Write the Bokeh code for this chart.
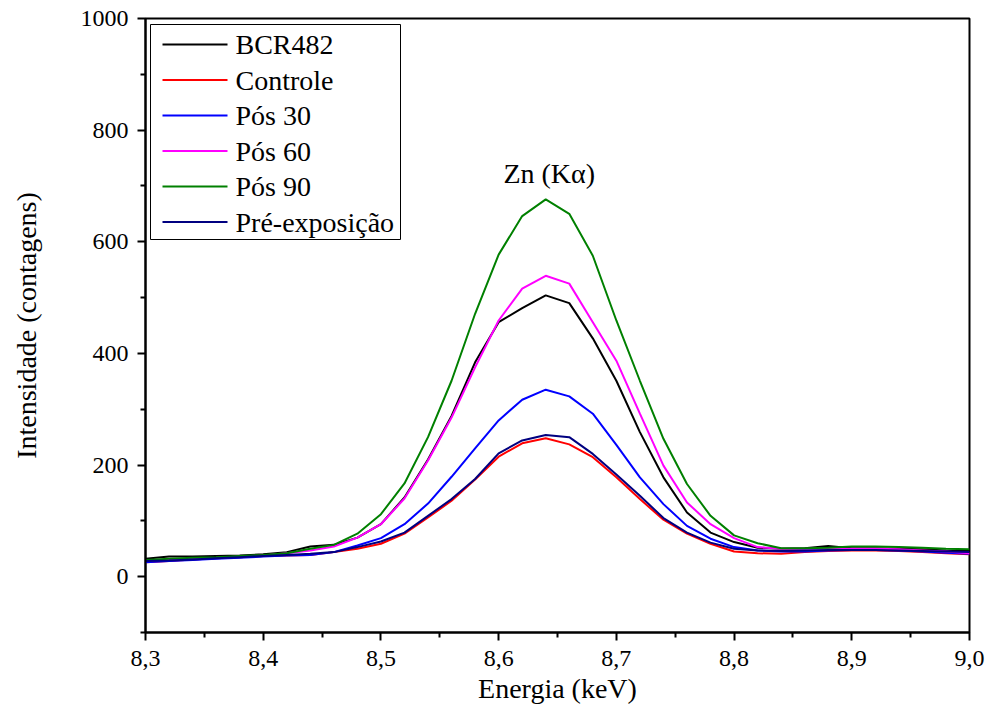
from bokeh.plotting import figure
from bokeh.models import Range1d, FixedTicker, CustomJSTickFormatter
from bokeh.core.properties import value
from bokeh.embed import file_html
from bokeh.resources import INLINE

energy = [8.30, 8.32, 8.34, 8.36, 8.38, 8.40, 8.42, 8.44, 8.46, 8.48,
          8.50, 8.52, 8.54, 8.56, 8.58, 8.60, 8.62, 8.64, 8.66, 8.68,
          8.70, 8.72, 8.74, 8.76, 8.78, 8.80, 8.82, 8.84, 8.86, 8.88,
          8.90, 8.92, 8.94, 8.96, 8.98, 9.00]

bcr482 = [32, 36, 36, 37, 38, 40, 44, 54, 57, 70, 94, 142, 210, 288, 384, 456, 481, 504, 490, 427,
          351, 259, 178, 115, 79, 62, 52, 50, 51, 55, 51, 51, 50, 49, 47, 46]
controle = [26, 28, 31, 33, 35, 37, 38, 39, 44, 50, 59, 77, 106, 136, 174, 215, 239, 248, 237, 214,
            178, 139, 102, 77, 59, 45, 42, 41, 44, 46, 47, 47, 46, 44, 42, 40]
pos30 = [26, 28, 30, 32, 34, 36, 38, 39, 44, 56, 69, 94, 131, 179, 230, 280, 317, 335, 323, 292,
         236, 178, 130, 91, 68, 53, 47, 45, 45, 47, 48, 48, 47, 45, 43, 41]
pos60 = [29, 31, 33, 34, 36, 38, 42, 47, 54, 70, 94, 140, 208, 285, 375, 459, 516, 539, 525, 456,
         387, 292, 199, 133, 94, 69, 53, 50, 50, 50, 50, 50, 49, 47, 45, 42]
pos90 = [30, 32, 34, 35, 37, 39, 42, 50, 57, 77, 112, 167, 250, 351, 471, 577, 646, 676, 650, 575,
         459, 351, 247, 166, 109, 74, 60, 51, 51, 52, 54, 54, 53, 52, 50, 49]
pre_exposicao = [28, 29, 31, 33, 35, 37, 39, 41, 44, 53, 63, 79, 109, 139, 175, 221, 244, 254, 250, 220,
                 183, 145, 105, 79, 61, 50, 47, 46, 47, 48, 48, 48, 47, 46, 45, 44]

series_names = ["BCR482", "Controle", "Pós 30", "Pós 60", "Pós 90", "Pré-exposição"]
series_values = [bcr482, controle, pos30, pos60, pos90, pre_exposicao]
series_colors = ["#000000", "#ff0000", "#0000ff", "#ff00ff", "#008000", "#000080"]

x_ticks = [8.3, 8.4, 8.5, 8.6, 8.7, 8.8, 8.9, 9.0]
x_minor = [8.35, 8.45, 8.55, 8.65, 8.75, 8.85, 8.95]
y_ticks = [0, 200, 400, 600, 800, 1000]
y_minor = [-100, 100, 300, 500, 700, 900]

annotation_text = "Zn (K\u03b1)"
annotation_x = 8.643
annotation_y = 722

X0, X1 = 8.3, 9.0
Y0, Y1 = -100, 1000

FONT = "Liberation Serif"

FRAME_LEFT, FRAME_TOP, FRAME_W, FRAME_H = 145, 18, 824, 614
WIDTH, HEIGHT = 988, 720

def px_x(px):
    return X0 + (px - FRAME_LEFT) * (X1 - X0) / FRAME_W

def py_y(py):
    return Y1 - (py - FRAME_TOP) * (Y1 - Y0) / FRAME_H

p = figure(width=WIDTH, height=HEIGHT, output_backend="svg", toolbar_location=None,
           x_range=Range1d(X0, X1), y_range=Range1d(Y0, Y1),
           min_border_left=FRAME_LEFT, min_border_right=WIDTH - FRAME_LEFT - FRAME_W,
           min_border_top=FRAME_TOP, min_border_bottom=HEIGHT - FRAME_TOP - FRAME_H)

p.xaxis[0].axis_label = "Energia (keV)"
p.yaxis[0].axis_label = "Intensidade (contagens)"
p.xaxis[0].axis_label_text_font = FONT
p.yaxis[0].axis_label_text_font = FONT
p.xaxis[0].major_label_text_font = FONT
p.yaxis[0].major_label_text_font = FONT
p.xaxis[0].axis_label_text_font_size = "28px"
p.yaxis[0].axis_label_text_font_size = "28px"
p.xaxis[0].major_label_text_font_size = "24px"
p.yaxis[0].major_label_text_font_size = "24px"

p.xgrid.visible = False
p.ygrid.visible = False
p.outline_line_color = "black"
p.outline_line_width = 2

for vals, col in zip(series_values, series_colors):
    p.line(energy, vals, line_color=col, line_width=2)

p.text(x=[annotation_x], y=[annotation_y], text=[annotation_text],
       text_font=value(FONT), text_font_size="28px", text_align="center",
       text_baseline="middle", text_color="black")

for ax in (p.xaxis[0], p.yaxis[0]):
    ax.axis_line_width = 2
    ax.axis_line_color = "black"
    ax.major_tick_line_width = 2
    ax.minor_tick_line_width = 2
    ax.major_tick_in = 0
    ax.major_tick_out = 8
    ax.minor_tick_in = 0
    ax.minor_tick_out = 5
    ax.major_label_text_color = "black"
    ax.axis_label_text_font_style = "normal"
    ax.axis_label_text_color = "black"

p.xaxis[0].ticker = FixedTicker(ticks=x_ticks, minor_ticks=x_minor)
p.yaxis[0].ticker = FixedTicker(ticks=y_ticks, minor_ticks=y_minor)
p.xaxis[0].formatter = CustomJSTickFormatter(code="return tick.toFixed(1).replace('.', ',');")
p.xaxis[0].major_label_standoff = 10
p.yaxis[0].major_label_standoff = 9
p.xaxis[0].axis_label_standoff = 4
p.yaxis[0].axis_label_standoff = 36

# legend box drawn inside the frame (layout pixels converted through helpers)
p.quad(left=[px_x(150)], right=[px_x(400)], top=[py_y(24)], bottom=[py_y(239)],
       fill_color="white", line_color="black", line_width=1)
row_py = [44 + 35.5 * i for i in range(len(series_names))]
p.segment(x0=[px_x(162)] * len(row_py), x1=[px_x(227)] * len(row_py),
          y0=[py_y(r) for r in row_py], y1=[py_y(r) for r in row_py],
          line_color=series_colors, line_width=2)
for name, r in zip(series_names, row_py):
    p.text(x=[px_x(235)], y=[py_y(r)], text=[name],
           text_font=value(FONT), text_font_size="28px", text_align="left",
           text_baseline="middle", text_color="black")

open("out.html", "w").write(file_html(p, INLINE))
